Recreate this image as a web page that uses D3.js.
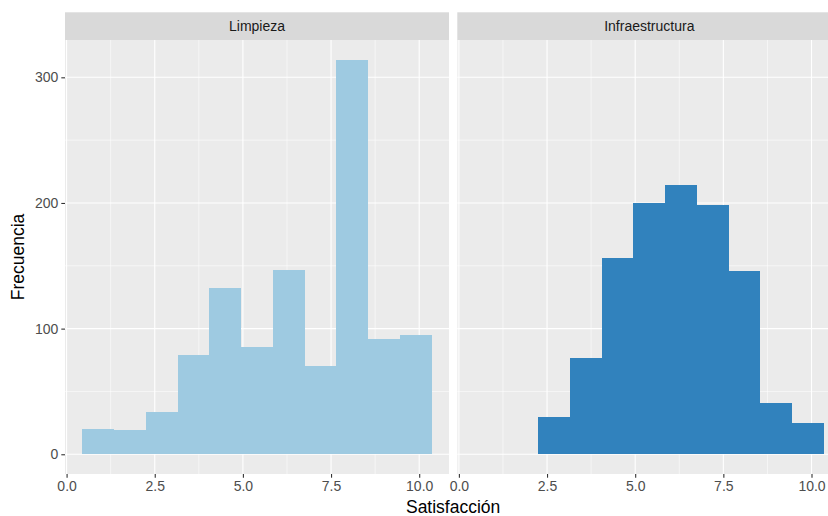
<!DOCTYPE html>
<html>
<head>
<meta charset="utf-8">
<script src="https://cdn.jsdelivr.net/npm/d3@7"></script>
<style>
  html, body { margin: 0; padding: 0; background: #ffffff; }
  svg { display: block; font-family: "Liberation Sans", Arial, sans-serif; }
</style>
</head>
<body>
<svg id="chart" width="828" height="516"></svg>
<script>
// ---- data ----
const facets = ["Limpieza", "Infraestructura"];
const binCenters = [0.9, 1.8, 2.7, 3.6, 4.5, 5.4, 6.3, 7.2, 8.1, 9.0, 9.9];
const binWidth = 0.9;
const limpiezaCounts = [20, 19, 34, 79, 132, 85, 147, 70, 314, 92, 95];
const infraestructuraCounts = [0, 0, 30, 77, 156, 200, 214, 198, 146, 41, 25];
const xTicks = [0, 2.5, 5, 7.5, 10];
const xMinor = [1.25, 3.75, 6.25, 8.75];
const yTicks = [0, 100, 200, 300];
const yMinor = [50, 150, 250];
const fillColors = ["#9ecae1", "#3182bd"];
const xTitle = "Satisfacción";
const yTitle = "Frecuencia";

const series = [limpiezaCounts, infraestructuraCounts];

const svg = d3.select("#chart");
const panelTop = 40, panelBottom = 474, stripTop = 12.3;
const panelLefts = [65, 457.3];
const panelWidth = 384;

const xMinData = binCenters[0] - binWidth / 2;
const xMaxData = binCenters[binCenters.length - 1] + binWidth / 2;
const xPad = (xMaxData - xMinData) * 0.05;
const yMax = d3.max(series.flat());
const y = d3.scaleLinear()
  .domain([-yMax * 0.05, yMax * 1.05])
  .range([panelBottom, panelTop]);

facets.forEach((name, i) => {
  const x0 = panelLefts[i];
  const x = d3.scaleLinear()
    .domain([xMinData - xPad, xMaxData + xPad])
    .range([x0, x0 + panelWidth]);
  const g = svg.append("g");

  // panel background
  g.append("rect")
    .attr("x", x0).attr("y", panelTop)
    .attr("width", panelWidth).attr("height", panelBottom - panelTop)
    .attr("fill", "#ebebeb");

  // minor grid
  g.selectAll(".vmin").data(xMinor).enter().append("line")
    .attr("x1", d => x(d)).attr("x2", d => x(d))
    .attr("y1", panelTop).attr("y2", panelBottom)
    .attr("stroke", "#ffffff").attr("stroke-width", 0.55);
  g.selectAll(".hmin").data(yMinor).enter().append("line")
    .attr("x1", x0).attr("x2", x0 + panelWidth)
    .attr("y1", d => y(d)).attr("y2", d => y(d))
    .attr("stroke", "#ffffff").attr("stroke-width", 0.55);
  // major grid
  g.selectAll(".vmaj").data(xTicks).enter().append("line")
    .attr("x1", d => x(d)).attr("x2", d => x(d))
    .attr("y1", panelTop).attr("y2", panelBottom)
    .attr("stroke", "#ffffff").attr("stroke-width", 1.1);
  g.selectAll(".hmaj").data(yTicks).enter().append("line")
    .attr("x1", x0).attr("x2", x0 + panelWidth)
    .attr("y1", d => y(d)).attr("y2", d => y(d))
    .attr("stroke", "#ffffff").attr("stroke-width", 1.1);

  // bars
  const data = binCenters.map((c, k) => ({ c, n: series[i][k] })).filter(d => d.n > 0);
  g.selectAll(".bar").data(data).enter().append("rect")
    .attr("x", d => x(d.c - binWidth / 2))
    .attr("width", d => x(d.c + binWidth / 2) - x(d.c - binWidth / 2))
    .attr("y", d => y(d.n))
    .attr("height", d => y(0) - y(d.n))
    .attr("fill", fillColors[i])
    .attr("shape-rendering", "crispEdges");

  // strip
  g.append("rect")
    .attr("x", x0).attr("y", stripTop)
    .attr("width", panelWidth).attr("height", panelTop - stripTop)
    .attr("fill", "#d9d9d9");
  g.append("text")
    .attr("x", x0 + panelWidth / 2).attr("y", (stripTop + panelTop) / 2)
    .attr("dy", "0.35em")
    .attr("text-anchor", "middle")
    .attr("font-size", 14)
    .attr("fill", "#1a1a1a")
    .text(name);

  // x axis
  const xAxis = d3.axisBottom(x).tickValues(xTicks).tickFormat(d3.format(".1f"))
    .tickSize(3.7).tickPadding(3);
  const ax = g.append("g").attr("transform", `translate(0,${panelBottom})`).call(xAxis);
  ax.select(".domain").remove();
  ax.selectAll(".tick line").attr("stroke", "#333333").attr("stroke-width", 1.1);
  ax.selectAll(".tick text").attr("fill", "#4d4d4d").attr("font-size", 14)
    .attr("font-family", "Liberation Sans, Arial, sans-serif");

  if (i === 0) {
    const yAxis = d3.axisLeft(y).tickValues(yTicks).tickSize(3.7).tickPadding(3);
    const ay = g.append("g").attr("transform", `translate(${x0},0)`).call(yAxis);
    ay.select(".domain").remove();
    ay.selectAll(".tick line").attr("stroke", "#333333").attr("stroke-width", 1.1);
    ay.selectAll(".tick text").attr("fill", "#4d4d4d").attr("font-size", 14)
      .attr("font-family", "Liberation Sans, Arial, sans-serif");
  }
});

// axis titles
svg.append("text")
  .attr("x", (panelLefts[0] + panelLefts[1] + panelWidth) / 2)
  .attr("y", 506.5).attr("dy", "0.35em")
  .attr("text-anchor", "middle")
  .attr("font-size", 17.5).attr("fill", "#000000")
  .text(xTitle);
svg.append("text")
  .attr("transform", `translate(18,${(panelTop + panelBottom) / 2}) rotate(-90)`)
  .attr("dy", "0.35em")
  .attr("text-anchor", "middle")
  .attr("font-size", 17.5).attr("fill", "#000000")
  .text(yTitle);
</script>
</body>
</html>
